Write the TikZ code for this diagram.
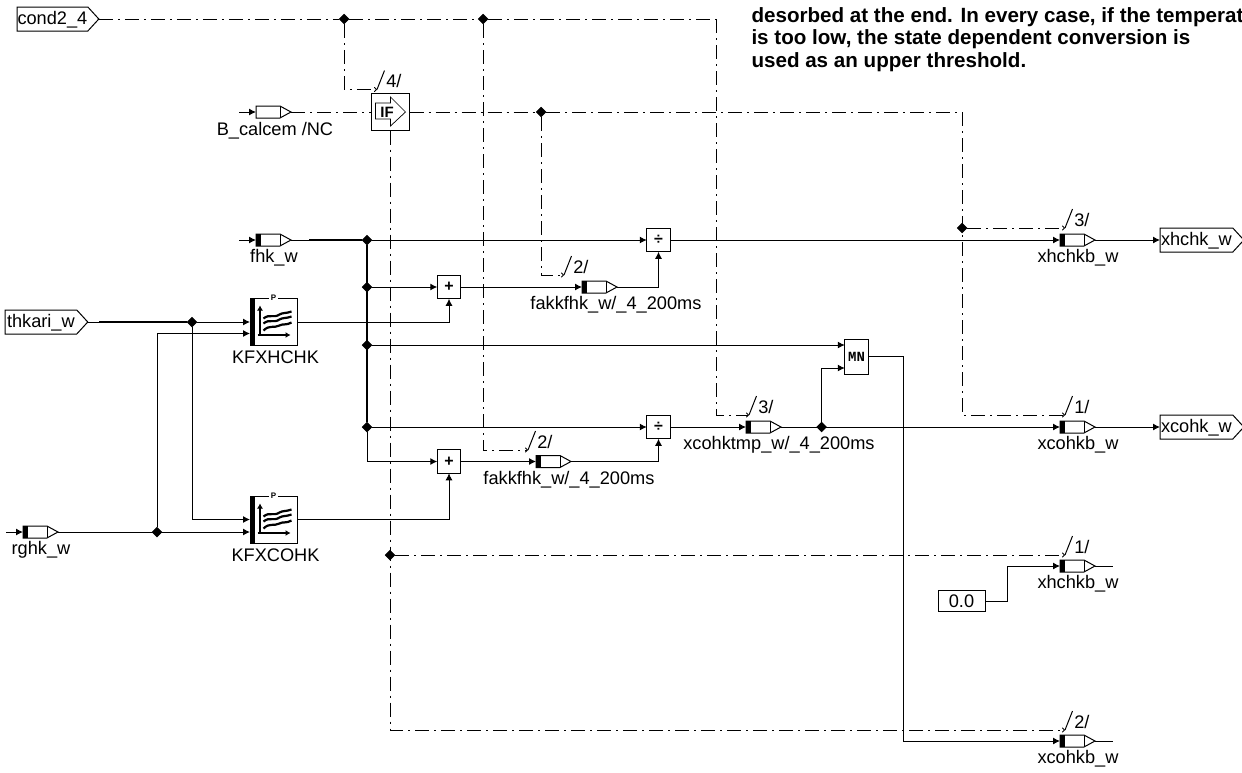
\documentclass[tikz,border=0pt]{standalone}
\usepackage{fontspec}
\setmainfont{Liberation Sans}
\setmonofont{Liberation Mono}
\usetikzlibrary{shapes.geometric, shapes.symbols, arrows.meta, positioning}

\begin{document}
\begin{tikzpicture}[
        x=1pt, y=-1pt,
        line width=1pt,
        font=\fontsize{18.2}{20}\selectfont,
        port/.style={draw, signal, signal to=east, signal pointer angle=95, minimum height=24pt, inner xsep=1pt, inner ysep=0pt, outer sep=0pt, fill=white, text height=15pt, text depth=3.8pt, font=\fontsize{18.2}{20}\selectfont},
        varbox/.style={draw, signal, signal to=east, signal pointer angle=57, minimum width=35pt, minimum height=12pt, inner sep=0pt, outer sep=0pt, fill=white,
            path picture={\draw ([xshift=24pt]path picture bounding box.south west) -- ([xshift=24pt]path picture bounding box.north west);}},
        varboxk/.style={varbox,
            path picture={\draw ([xshift=24pt]path picture bounding box.south west) -- ([xshift=24pt]path picture bounding box.north west);
                \fill[black] ([xshift=-1pt]path picture bounding box.south west) rectangle ([xshift=5pt]path picture bounding box.north west);}},
        opbox/.style={draw, minimum width=23.5pt, minimum height=23.5pt, inner sep=0pt, outer sep=0pt, fill=white, font=\fontsize{16}{16}\selectfont\bfseries},
        kfbox/.style={draw, minimum width=47pt, minimum height=47pt, inner sep=0pt, outer sep=0pt, fill=white,
            path picture={\fill[black] ([xshift=-1pt]path picture bounding box.south west) rectangle ([xshift=5pt]path picture bounding box.north west);}},
        caption/.style={inner sep=0pt, text height=13pt, text depth=3.5pt, xshift=6pt},
        junction/.style={draw, diamond, fill=black, inner sep=0pt, minimum size=9.5pt},
        ticktext/.style={pos=0.5, right=5pt, yshift=-1pt, inner sep=0pt},
        wire/.style={-{Latex[length=7pt,width=7pt]}},
        sig/.style={dash pattern=on 14pt off 5pt on 2pt off 5pt},
        sigarr/.style={sig, -{To[length=3pt,width=5pt]}},
        kfmap/.pic={
            \draw[line width=1.6pt, -{Latex[length=5pt,width=6pt]}] (-13.5,13.5) -- (-13.5,-16);
            \draw[line width=1.6pt, -{Latex[length=5pt,width=6pt]}] (-16,13.5) -- (17,13.5);
            \draw[line width=2.2pt] (-10,-3) .. controls (-4,-8) and (0,-3) .. (6,-7) .. controls (9,-9) and (13,-8) .. (18,-10);
            \draw[line width=2.2pt] (-10,2) .. controls (-4,-3) and (0,2) .. (6,-2) .. controls (9,-4) and (13,-3) .. (18,-5);
            \draw[line width=2.2pt] (-10,9) .. controls (-4,3) and (0,7) .. (6,4) .. controls (9,2) and (13,4) .. (18,1);
        }
    ]
        \useasboundingbox (0,0) rectangle (1242,772);

        % note text
        \node[anchor=north west, inner sep=0pt, align=left, font=\fontsize{20.6}{22.4}\selectfont\bfseries] (note) at (751,7) {desorbed at the end. In every case, if the temperat\\is too low, the state dependent conversion is\\used as an upper threshold.};

        % ports
        \node[port, minimum width=80pt, inner xsep=0.5pt, anchor=west] (cond) at (17,19) {cond2\_4};
        \node[port, minimum width=82pt, inner xsep=2pt, anchor=west] (thkari) at (5,322) {thkari\_w};
        \node[port, minimum width=79.5pt, anchor=west] (xhchk) at (1160,240) {xhchk\_w};
        \node[port, minimum width=79.5pt, anchor=west] (xcohk) at (1160,427) {xcohk\_w};
        \node[draw, minimum width=47pt, minimum height=21pt, inner sep=0pt, outer sep=0pt, font=\fontsize{18.2}{20}\selectfont] (zero) at (961.5,601) {0.0};

        % variables
        \node[varbox,  anchor=west] (calcem) at (256,112) {};
        \node[varboxk, anchor=west] (fhk) at (256,240) {};
        \node[varboxk, anchor=west] (rghk) at (23,532) {};
        \node[varboxk, anchor=west] (fak1) at (582,287) {};
        \node[varboxk, anchor=west] (fak2) at (536,461.5) {};
        \node[varboxk, anchor=west] (xcotmp) at (746,427) {};
        \node[varboxk, anchor=west] (xhb1) at (1060,240) {};
        \node[varboxk, anchor=west] (xcob1) at (1060,427) {};
        \node[varboxk, anchor=west] (xhb2) at (1060,566) {};
        \node[varboxk, anchor=west] (xcob2) at (1060,741) {};

        \node[caption, below=4pt of calcem, xshift=1pt] (calcemtxt) {B\_calcem /NC};
        \node[caption, below=3pt of fhk] (fhktxt) {fhk\_w};
        \node[caption, below=3pt of rghk] (rghktxt) {rghk\_w};
        \node[caption, below=3pt of fak1, xshift=16pt] (fak1txt) {fakkfhk\_w/\_4\_200ms};
        \node[caption, below=3pt of fak2, xshift=15pt] (fak2txt) {fakkfhk\_w/\_4\_200ms};
        \node[caption, below=3pt of xcotmp, xshift=15pt] (xcotmptxt) {xcohktmp\_w/\_4\_200ms};
        \node[caption, below=3pt of xhb1] (xhb1txt) {xhchkb\_w};
        \node[caption, below=3pt of xcob1] (xcob1txt) {xcohkb\_w};
        \node[caption, below=3pt of xhb2] (xhb2txt) {xhchkb\_w};
        \node[caption, below=3pt of xcob2] (xcob2txt) {xcohkb\_w};

        % blocks
        \node[opbox, minimum width=38pt, minimum height=37pt] (ifb) at (390.5,112) {};
        \draw[shift={(ifb.center)}, line width=0.7pt] (-15,-9) -- (0,-9) -- (0,-15) -- (15,0) -- (0,14) -- (0,7) -- (-15,7) -- cycle;
        \node[inner sep=0pt, font=\fontsize{15}{15}\selectfont\bfseries] (iftxt) at (387,112) {IF};

        \node[kfbox] (kf1) at (273.5,321.5) {};
        \node[kfbox] (kf2) at (273.5,519.5) {};
        \pic at (kf1.center) {kfmap};
        \pic at (kf2.center) {kfmap};
        \node[fill=white, inner xsep=1.5pt, inner ysep=0pt, font=\fontsize{8}{8}\selectfont\bfseries] (kf1p) at (kf1.north) {P};
        \node[fill=white, inner xsep=1.5pt, inner ysep=0pt, font=\fontsize{8}{8}\selectfont\bfseries] (kf2p) at (kf2.north) {P};
        \node[caption, below=5pt of kf1, xshift=-4pt] (kf1txt) {KFXHCHK};
        \node[caption, below=5pt of kf2, xshift=-4pt] (kf2txt) {KFXCOHK};

        \node[opbox] (plus1) at (449,287) {+};
        \node[opbox] (plus2) at (449,461.5) {+};
        \node[opbox] (div1) at (658.5,240) {÷};
        \node[opbox] (div2) at (658.5,427) {÷};
        \node[opbox, minimum height=35pt, font=\fontsize{14}{14}\ttfamily\bfseries] (mn) at (856.5,356.5) {MN};

        % junctions
        \node[junction] (j1) at (344,19) {};
        \node[junction] (j2) at (483,19) {};
        \node[junction] (j3) at (541,112) {};
        \node[junction] (j4) at (962,228) {};
        \node[junction] (j5) at (367,240) {};
        \node[junction] (j6) at (367,287) {};
        \node[junction] (j7) at (367,345) {};
        \node[junction] (j8) at (367,427) {};
        \node[junction] (j9) at (192,322) {};
        \node[junction] (j10) at (157,532) {};
        \node[junction] (j11) at (821.5,427) {};
        \node[junction] (j12) at (390,555) {};

        % free ends
        \coordinate (tk4) at (377,89.5);
        \coordinate (tk2a) at (564,275);
        \coordinate (tk2b) at (528,450);
        \coordinate (tk3a) at (749,415);
        \coordinate (tk3b) at (1065,228);
        \coordinate (tk1a) at (1065,415);
        \coordinate (tk1b) at (1065,555);
        \coordinate (tk2c) at (1065,730);
        \coordinate (calcemin) at (239,112);
        \coordinate (fhkin) at (239,240);
        \coordinate (rghkin) at (6,532);
        \coordinate (fhkthk) at (309,240);
        \coordinate (thkthk) at (99,322);
        \coordinate (xhb2out) at (1113,566);
        \coordinate (xcob2out) at (1113,741);
        \coordinate (topend) at (716,19);
        \coordinate (ifend) at (962,112);

        % signal lines
        \draw[sig] (cond.east) -- (j1);
        \draw[sig] (j1) -- (j2);
        \draw[sig] (j2) -- (topend);
        \draw[sigarr] (topend) |- (tk3a);
        \draw[sigarr] (j1) |- (tk4);
        \draw[sigarr] (j2) |- (tk2b);
        \draw[sig] (calcem.east) -- (ifb.west);
        \draw[sig] (ifb.east) -- (j3);
        \draw[sig] (j3) -- (ifend);
        \draw[sigarr] (ifend) |- (tk1a);
        \draw[sigarr] (j3) |- (tk2a);
        \draw[sigarr] (j4) -- (tk3b);
        \draw[sigarr] (ifb.south) |- (tk2c);
        \draw[sigarr] (j12) -- (tk1b);

        % ticks
        \draw (tk4) -- ++(7.5,-19) node[ticktext] {4/};
        \draw (tk2a) -- ++(7.5,-19) node[ticktext] {2/};
        \draw (tk2b) -- ++(7.5,-19) node[ticktext] {2/};
        \draw (tk3a) -- ++(7.5,-19) node[ticktext] {3/};
        \draw (tk3b) -- ++(7.5,-19) node[ticktext] {3/};
        \draw (tk1a) -- ++(7.5,-19) node[ticktext] {1/};
        \draw (tk1b) -- ++(7.5,-19) node[ticktext] {1/};
        \draw (tk2c) -- ++(7.5,-19) node[ticktext] {2/};

        % data lines
        \draw[wire] (calcemin) -- (calcem.west);
        \draw[wire] (fhkin) -- (fhk.west);
        \draw[wire] (rghkin) -- (rghk.west);
        \draw (fhk.east) -- (fhkthk);
        \draw[line width=2pt] (fhkthk) -- (j5);
        \draw[line width=2pt] (j5) -- (j8);
        \draw[wire] (j5) -- (div1.west);
        \draw[wire] (j6) -- (plus1.west);
        \draw[wire] (j7) -- (mn.west |- j7);
        \draw[wire] (j8) -- (div2.west);
        \draw[wire] (j8) |- (plus2.west);
        \draw[wire] (plus1.east) -- (fak1.west);
        \draw[wire] (plus2.east) -- (fak2.west);
        \draw[wire] (fak1.east) -| (div1.south);
        \draw[wire] (fak2.east) -| (div2.south);
        \draw[wire] (div1.east) -- (xhb1.west);
        \draw[wire] (div2.east) -- (xcotmp.west);
        \draw[wire] (xcotmp.east) -- (xcob1.west);
        \draw[wire] (j11) |- ([yshift=-11.5pt]mn.west);
        \draw[wire] (xhb1.east) -- (xhchk.west);
        \draw[wire] (xcob1.east) -- (xcohk.west);
        \draw[wire] (mn.east) -- ++(35,0) |- (xcob2.west);
        \draw (xhb2.east) -- (xhb2out);
        \draw (xcob2.east) -- (xcob2out);
        \draw[wire] (zero.east) -- ++(22.5,0) |- (xhb2.west);

        \draw (thkari.east) -- (thkthk);
        \draw[line width=2pt] (thkthk) -- (j9);
        \draw[wire] (j9) -- (kf1.west |- j9);
        \draw[wire] (j9) |- (kf2.west);
        \draw[wire] (rghk.east) -- (kf2.west |- rghk);
        \draw[wire] (j10) |- ([yshift=-12pt]kf1.west);
        \draw[wire] (kf1.east |- j9) -| (plus1.south);
        \draw[wire] (kf2.east) -| (plus2.south);
    \end{tikzpicture}
\end{document}
